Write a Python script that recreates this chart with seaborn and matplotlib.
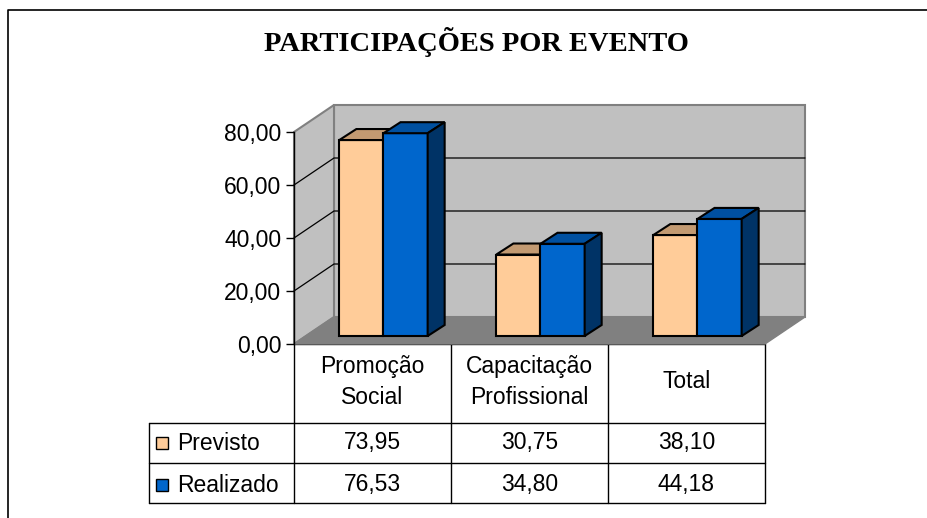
import pandas as pd
import seaborn as sns
import matplotlib.pyplot as plt
import matplotlib.transforms as mtransforms
from matplotlib.patches import Polygon, Rectangle


eventos = ["Promoção\nSocial", "Capacitação\nProfissional", "Total"]
series = ["Previsto", "Realizado"]
previsto = [73.95, 30.75, 38.10]
realizado = [76.53, 34.80, 44.18]
yticks = [0, 20, 40, 60, 80]

front_cols = {"Previsto": "#FFCC99", "Realizado": "#0066CC"}
top_cols = {"Previsto": "#C29A72", "Realizado": "#0050A0"}
side_cols = {"Previsto": "#B3875C", "Realizado": "#003366"}

df = pd.DataFrame({
    "evento": eventos * 2,
    "serie": ["Previsto"] * 3 + ["Realizado"] * 3,
    "valor": previsto + realizado,
})

sns.set_style("white")
plt.rcParams["font.family"] = ["Liberation Sans", "DejaVu Sans"]
plt.rcParams["text.color"] = "black"

W, H = 928, 518
fig = plt.figure(figsize=(W / 100, H / 100), dpi=100)

# pixel-coordinate layer for frame, title and data table
bg = fig.add_axes([0, 0, 1, 1])
bg.set_xlim(0, W)
bg.set_ylim(H, 0)
bg.axis("off")

# front plane of the 3d plot area
x0, x1, y0, y1 = 294, 765, 344, 132
ax = fig.add_axes([x0 / W, 1 - y0 / H, (x1 - x0) / W, (y0 - y1) / H])
ax.set_xlim(-0.5, 2.5)
ax.set_ylim(0, 80)
ax.patch.set_facecolor("none")

sx = (x1 - x0) / 3
sy = (y0 - y1) / 80
DX, DY = 40 / sx, 27 / sy      # wall depth
BDX, BDY = 17 / sx, 11 / sy    # bar depth

sns.barplot(data=df, x="evento", y="valor", hue="serie", palette=front_cols,
            width=0.5625, saturation=1, edgecolor="black", linewidth=1.5,
            legend=False, ax=ax)

bars = list(ax.patches)
shift = ax.transData + mtransforms.ScaledTranslation(11 / 100, 8 / 100, fig.dpi_scale_trans)

for p, s in zip(bars, df["serie"]):
    z = 3 if s == "Previsto" else 4
    p.set_transform(shift)
    p.set_zorder(z)
    p.set_clip_on(False)
    bx, bw, bh = p.get_x(), p.get_width(), p.get_height()
    top = Polygon([(bx, bh), (bx + bw, bh), (bx + bw + BDX, bh + BDY), (bx + BDX, bh + BDY)],
                  closed=True, fc=top_cols[s], ec="black", lw=1.5, transform=shift,
                  zorder=z + 0.1, clip_on=False)
    side = Polygon([(bx + bw, 0), (bx + bw + BDX, BDY), (bx + bw + BDX, bh + BDY), (bx + bw, bh)],
                   closed=True, fc=side_cols[s], ec="black", lw=1.5, transform=shift,
                   zorder=z + 0.1, clip_on=False)
    ax.add_patch(top)
    ax.add_patch(side)

# walls and floor
ax.add_patch(Rectangle((-0.5 + DX, DY), 3, 80, fc="#C0C0C0", ec="#808080", lw=1.5,
                       zorder=0, clip_on=False))
ax.add_patch(Polygon([(-0.5, 0), (-0.5 + DX, DY), (-0.5 + DX, 80 + DY), (-0.5, 80)],
                     closed=True, fc="#C0C0C0", ec="#808080", lw=1.5, zorder=0, clip_on=False))
ax.add_patch(Polygon([(-0.5, 0), (2.5, 0), (2.5 + DX, DY), (-0.5 + DX, DY)],
                     closed=True, fc="#808080", ec="#808080", lw=1, zorder=0.5, clip_on=False))
for v in yticks[1:-1]:
    ax.plot([-0.5, -0.5 + DX, 2.5 + DX], [v, v + DY, v + DY], color="black", lw=0.9,
            zorder=0.6, clip_on=False)

for side_name in ["top", "right", "bottom"]:
    ax.spines[side_name].set_visible(False)
ax.spines["left"].set_color("black")
ax.spines["left"].set_linewidth(1)
ax.set_yticks(yticks)
ax.set_yticklabels([f"{v:.2f}".replace(".", ",") for v in yticks])
ax.set_xticks([])
ax.set_xlabel("")
ax.set_ylabel("")
ax.tick_params(axis="y", direction="out", length=6, width=1, labelsize=16.5, pad=3,
               colors="black", left=True)

# title
bg.text(476, 42, "PARTICIPAÇÕES POR EVENTO", ha="center", va="center", fontsize=20.5,
        fontweight="bold", color="black", family=["Liberation Serif", "DejaVu Serif"])

# frame
bg.plot([8, 8, W + 5], [H + 5, 10, 10], color="black", lw=1.2, clip_on=False)

# data table
cols = [x0 + i * sx for i in range(4)]
for cx in cols:
    bg.plot([cx, cx], [344, 503], color="black", lw=1)
bg.plot([149, 149], [423, 503], color="black", lw=1)
for ry in [423, 463, 503]:
    bg.plot([149, x1], [ry, ry], color="black", lw=1)
bg.plot([x0, x1], [344, 344], color="black", lw=1)

for i, ev in enumerate(eventos):
    bg.text(x0 + (i + 0.5) * sx, 382, ev, ha="center", va="center", fontsize=16.5,
            linespacing=1.45)

for s, vals, ry in [("Previsto", previsto, 443), ("Realizado", realizado, 485)]:
    bg.add_patch(Rectangle((156, ry - 6), 12, 12, fc=front_cols[s], ec="black", lw=1))
    bg.text(177, ry, s, ha="left", va="center", fontsize=16.5)
    for i, v in enumerate(vals):
        bg.text(x0 + (i + 0.5) * sx, ry, f"{v:.2f}".replace(".", ","), ha="center",
                va="center", fontsize=16.5)

plt.savefig("out.png", dpi=100)
